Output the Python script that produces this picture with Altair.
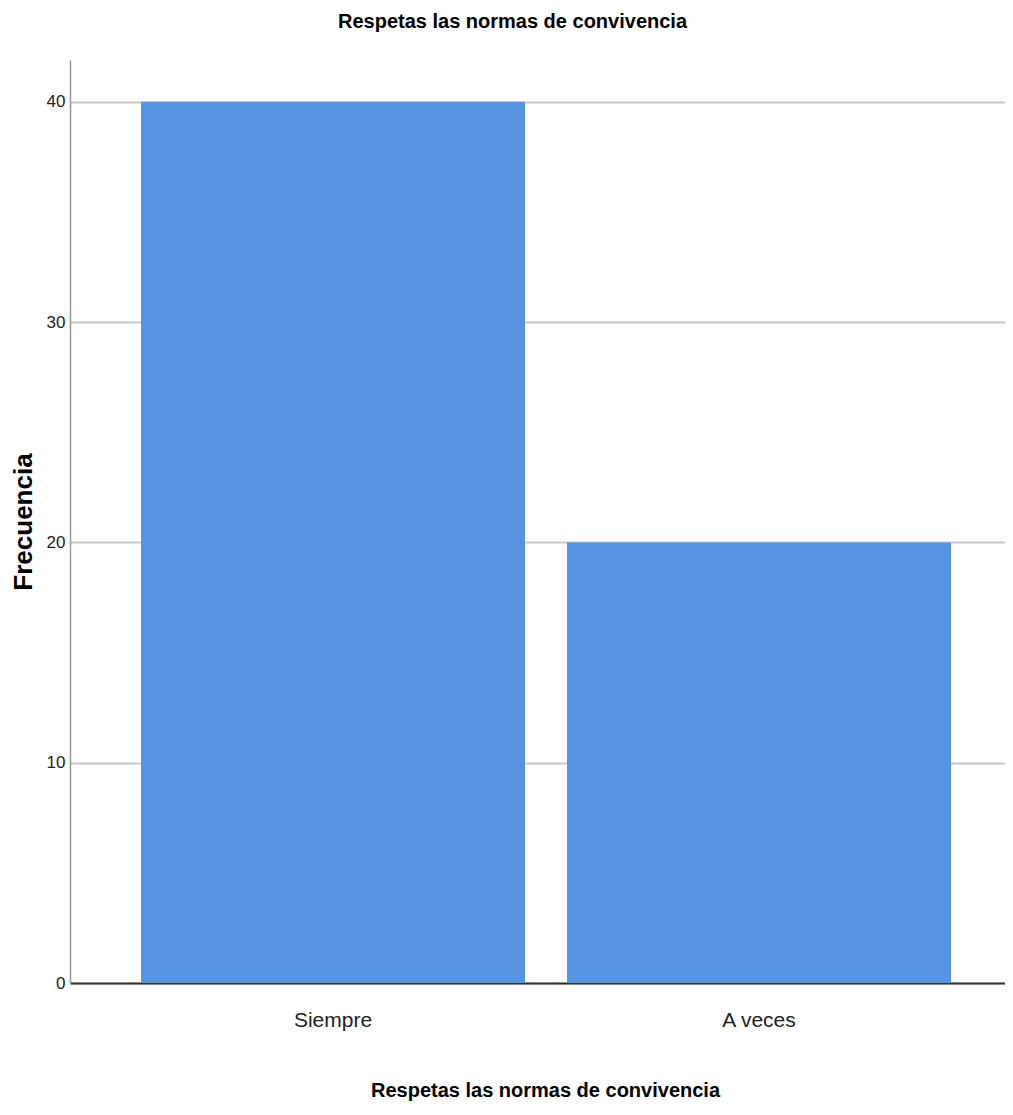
import altair as alt
import pandas as pd

categories = ["Siempre", "A veces"]
counts = [40, 20]
y_ticks = [0, 10, 20, 30, 40]

df = pd.DataFrame({"cat": categories, "n": counts})

FONT = "Liberation Sans, Arial"

chart = alt.Chart(df).mark_bar(color="#5594e0").encode(
    x=alt.X("cat:N", sort=categories,
            scale=alt.Scale(paddingInner=0.0986, paddingOuter=0.1467, align=0.568),
            axis=alt.Axis(title="Respetas las normas de convivencia", labelAngle=0,
                          labelFont=FONT, labelFontSize=21, labelColor="#222",
                          labelPadding=26, ticks=False, domainColor="#333", domainWidth=2,
                          titleFont=FONT, titleFontSize=20, titleFontWeight="bold",
                          titleColor="#000", titleX=475, titleY=113,
                          titleBaseline="alphabetic", grid=False)),
    y=alt.Y("n:Q", scale=alt.Scale(domain=[0, 41.9], nice=False),
            axis=alt.Axis(title="Frecuencia", values=y_ticks, labelFont=FONT,
                          labelFontSize=17, labelColor="#222", labelPadding=5, ticks=False,
                          domainColor="#999", domainWidth=1.5, gridColor="#c8c8c8",
                          gridWidth=2, titleFont=FONT, titleFontSize=26,
                          titleFontWeight="bold", titleColor="#000", titlePadding=10)),
).properties(
    width=935, height=923,
    title=alt.TitleParams("Respetas las normas de convivencia", font=FONT, fontSize=20,
                          fontWeight="bold", color="#000", dx=-25, offset=28),
    autosize=alt.AutoSizeParams(type="none"),
    padding={"left": 62, "top": 52, "right": 0, "bottom": 118},
).configure_view(stroke=None)

chart.save("out.html", embed_options={"renderer": "svg", "actions": False})
